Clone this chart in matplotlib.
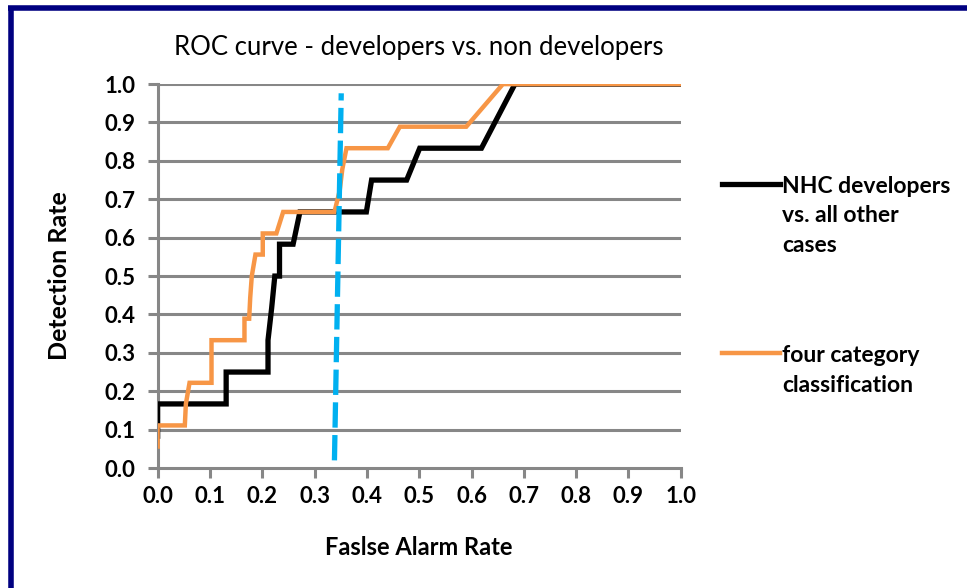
import numpy as np
import matplotlib.pyplot as plt
from matplotlib.lines import Line2D

plt.rcParams['font.family'] = ['Lato', 'DejaVu Sans']

# curva ROC - NHC developers vs. all other cases
far_nhc = [0.0, 0.0, 0.131, 0.131, 0.211, 0.211, 0.218, 0.224, 0.233, 0.233,
           0.259, 0.272, 0.399, 0.409, 0.476, 0.501, 0.619, 0.683, 1.0]
det_nhc = [0.083, 0.167, 0.167, 0.25, 0.25, 0.333, 0.417, 0.5, 0.5, 0.583,
           0.583, 0.667, 0.667, 0.75, 0.75, 0.833, 0.833, 1.0, 1.0]

# curva ROC - four category classification
far_four = [0.0, 0.0, 0.052, 0.054, 0.061, 0.103, 0.103, 0.166, 0.166, 0.175,
            0.177, 0.18, 0.187, 0.201, 0.201, 0.227, 0.24, 0.338, 0.348, 0.353,
            0.361, 0.44, 0.463, 0.59, 0.66, 1.0]
det_four = [0.056, 0.111, 0.111, 0.167, 0.222, 0.222, 0.333, 0.333, 0.389, 0.389,
            0.444, 0.5, 0.556, 0.556, 0.611, 0.611, 0.667, 0.667, 0.722, 0.778,
            0.833, 0.833, 0.889, 0.889, 1.0, 1.0]

# limiar (linha tracejada azul)
far_thr = [0.338, 0.351]
det_thr = [0.02, 0.976]

ticks = np.round(np.arange(0, 1.01, 0.1), 1)
tick_labels = ["{0:.1f}".format(v) for v in ticks]

fig = plt.figure(figsize=(9.67, 5.88), dpi=100)
ax = fig.add_axes([0.163, 0.204, 0.541, 0.653])

grid_c = '#878787'
for v in ticks[1:]:
    ax.axhline(v, color=grid_c, lw=2.2, zorder=1)

l1, = ax.plot(far_nhc, det_nhc, color='black', lw=3.8, zorder=3,
              solid_joinstyle='miter')
l2, = ax.plot(far_four, det_four, color='#F79646', lw=3.2, zorder=4,
              solid_joinstyle='miter')
ax.plot(far_thr, det_thr, color='#00B0F0', lw=3.8, zorder=5,
        dashes=(4.8, 1.4))

ax.set_xlim(0, 1.0)
ax.set_ylim(0, 1.0)
ax.set_xticks(ticks)
ax.set_xticklabels(tick_labels)
ax.set_yticks(ticks)
ax.set_yticklabels(tick_labels)
for lab in ax.get_xticklabels() + ax.get_yticklabels():
    lab.set_fontweight('bold')
    lab.set_fontsize(16)
ax.tick_params(axis='both', color=grid_c, width=2.2, length=7, direction='out')
ax.tick_params(axis='x', pad=6)
ax.tick_params(axis='y', pad=9)

for s in ['top', 'right']:
    ax.spines[s].set_visible(False)
for s in ['left', 'bottom']:
    ax.spines[s].set_color(grid_c)
    ax.spines[s].set_linewidth(2.2)
    ax.spines[s].set_zorder(2)

ax.set_title("ROC curve - developers vs. non developers", fontsize=18.5, pad=21)
ax.set_xlabel("Faslse Alarm Rate", fontsize=17, fontweight='bold', labelpad=21)
ax.set_ylabel("Detection Rate", fontsize=18, fontweight='bold', labelpad=24)

leg = ax.legend([l1, l2], ["NHC developers\nvs. all other\ncases",
                           "four category\nclassification"],
                loc='upper left', bbox_to_anchor=(1.04, 0.815), frameon=False,
                handlelength=2.5, handletextpad=0.1, labelspacing=3.9,
                prop={'weight': 'bold', 'size': 16.5})
for t in leg.get_texts():
    t.set_linespacing(1.5)
# alinhar o traço da legenda com a primeira linha do texto
for col in leg._legend_handle_box.get_children():
    for item in col.get_children():
        item.align = 'top'

# moldura azul (topo e esquerda)
fig.add_artist(Line2D([0.011, 0.011], [0, 0.986], transform=fig.transFigure,
                      color='#000080', lw=4, solid_capstyle='butt'))
fig.add_artist(Line2D([0.0085, 1.0], [0.986, 0.986], transform=fig.transFigure,
                      color='#000080', lw=4, solid_capstyle='butt'))

fig.savefig('out.png', dpi=100)
